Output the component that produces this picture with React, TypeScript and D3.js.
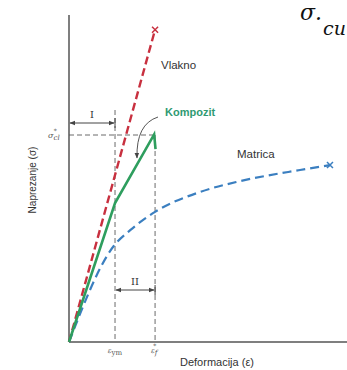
import { useEffect, useRef } from "react";
import * as d3 from "d3";

// strain / stress in arbitrary units
const fiberPts: [number, number][] = [[0, 0], [1.87, 95.5]];
const compositePts: [number, number][] = [[0, 0], [1.0, 42.5], [1.85, 63.5], [1.88, 59]];
const matrixPts: [number, number][] = [
  [0, 0], [0.98, 29.5], [1.33, 34.2], [1.87, 39.8], [2.85, 45.9], [3.72, 49.2], [5.02, 52.6], [5.67, 54.1],
];
const epsYm = 1.0;
const epsF = 1.87;
const sigmaCl = 63.3;

const RED = "#c8303f";
const BLUE = "#3b7fc0";
const GREEN = "#2e9e5e";
const GRAY = "#6a6a6a";

export default function App() {
  const svgRef = useRef<SVGSVGElement>(null);

  useEffect(() => {
    if (!svgRef.current) return;
    const svg = d3.select(svgRef.current);
    svg.selectAll("*").remove();

    const x = d3.scaleLinear().domain([0, 6.04]).range([69, 347]);
    const y = d3.scaleLinear().domain([0, 100]).range([342, 15]);
    const line = d3.line<[number, number]>().x((d) => x(d[0])).y((d) => y(d[1]));

    const defs = svg.append("defs");
    defs.append("marker")
      .attr("id", "ah")
      .attr("viewBox", "0 0 10 10")
      .attr("refX", 9).attr("refY", 5)
      .attr("markerWidth", 6).attr("markerHeight", 6)
      .attr("orient", "auto-start-reverse")
      .append("path").attr("d", "M0,1 L10,5 L0,9 z").attr("fill", "#444");

    // reference dashed lines
    svg.append("line")
      .attr("x1", x(epsYm)).attr("x2", x(epsYm)).attr("y1", 110).attr("y2", y(0))
      .attr("stroke", GRAY).attr("stroke-width", 1).attr("stroke-dasharray", "5,3");
    svg.append("line")
      .attr("x1", x(epsF)).attr("x2", x(epsF)).attr("y1", y(sigmaCl)).attr("y2", y(0))
      .attr("stroke", GRAY).attr("stroke-width", 1).attr("stroke-dasharray", "5,3");
    svg.append("line")
      .attr("x1", x(0)).attr("x2", x(epsF)).attr("y1", y(sigmaCl)).attr("y2", y(sigmaCl))
      .attr("stroke", GRAY).attr("stroke-width", 1).attr("stroke-dasharray", "5,3");

    // axes
    svg.append("line").attr("x1", x(0)).attr("x2", x(0)).attr("y1", 15).attr("y2", y(0))
      .attr("stroke", "#555").attr("stroke-width", 1.5);
    svg.append("line").attr("x1", x(0)).attr("x2", 347).attr("y1", y(0)).attr("y2", y(0))
      .attr("stroke", "#555").attr("stroke-width", 1.5);

    // curves
    svg.append("path")
      .attr("d", line.curve(d3.curveMonotoneX)(matrixPts))
      .attr("fill", "none").attr("stroke", BLUE).attr("stroke-width", 2.2).attr("stroke-dasharray", "9,5");
    svg.append("path")
      .attr("d", line.curve(d3.curveLinear)(fiberPts))
      .attr("fill", "none").attr("stroke", RED).attr("stroke-width", 2.4).attr("stroke-dasharray", "8,4");
    svg.append("path")
      .attr("d", line.curve(d3.curveLinear)(compositePts))
      .attr("fill", "none").attr("stroke", GREEN).attr("stroke-width", 2.6).attr("stroke-linejoin", "miter");

    // failure markers
    const cross = (cx: number, cy: number, c: string) => {
      svg.append("path")
        .attr("d", `M${cx - 3},${cy - 3}L${cx + 3},${cy + 3}M${cx - 3},${cy + 3}L${cx + 3},${cy - 3}`)
        .attr("stroke", c).attr("stroke-width", 1.5);
    };
    const fEnd = fiberPts[fiberPts.length - 1];
    const mEnd = matrixPts[matrixPts.length - 1];
    cross(x(fEnd[0]), y(fEnd[1]), RED);
    cross(x(mEnd[0]), y(mEnd[1]), BLUE);

    // dimension arrows I and II
    const dim = (x1: number, x2: number, yy: number, label: string) => {
      svg.append("line").attr("x1", x1 + 1).attr("x2", x2 - 1).attr("y1", yy).attr("y2", yy)
        .attr("stroke", "#444").attr("stroke-width", 1)
        .attr("marker-start", "url(#ah)").attr("marker-end", "url(#ah)");
      svg.append("line").attr("x1", x2).attr("x2", x2).attr("y1", yy - 5).attr("y2", yy + 5)
        .attr("stroke", "#444").attr("stroke-width", 1);
      svg.append("text").attr("x", (x1 + x2) / 2).attr("y", yy - 5)
        .attr("text-anchor", "middle").attr("font-family", "DejaVu Serif").attr("font-size", 10)
        .attr("fill", "#333").text(label);
    };
    dim(x(0), x(epsYm), 123, "I");
    dim(x(epsYm), x(epsF), 290, "II");

    // curved pointer from Kompozit label
    svg.append("path").attr("d", "M158,117 Q136,124 137,158")
      .attr("fill", "none").attr("stroke", "#555").attr("stroke-width", 1)
      .attr("marker-end", "url(#ah)");

    // labels
    const sans = "Liberation Sans, Arial, sans-serif";
    svg.append("text").attr("x", 161).attr("y", 69).attr("font-family", sans).attr("font-size", 11.5)
      .attr("fill", "#333").text("Vlakno");
    svg.append("text").attr("x", 165).attr("y", 116).attr("font-family", sans).attr("font-size", 11)
      .attr("font-weight", "bold").attr("fill", "#2f9a72").text("Kompozit");
    svg.append("text").attr("x", 237).attr("y", 158).attr("font-family", sans).attr("font-size", 11.5)
      .attr("fill", "#333").text("Matrica");

    // sigma_cl*
    const sc = svg.append("text").attr("x", 48).attr("y", 138).attr("font-family", "DejaVu Serif")
      .attr("font-style", "italic").attr("font-size", 8).attr("fill", "#555");
    sc.append("tspan").text("σ");
    sc.append("tspan").attr("font-size", 7).attr("dy", 1.5).text("cl");
    sc.append("tspan").attr("font-size", 6).attr("dx", -6).attr("dy", -7).text("*");

    // tick labels under x axis
    const t1 = svg.append("text").attr("x", x(epsYm)).attr("y", 353).attr("text-anchor", "middle")
      .attr("font-family", "DejaVu Serif").attr("font-size", 7).attr("fill", "#555");
    t1.append("tspan").attr("font-style", "italic").text("ε");
    t1.append("tspan").attr("dy", 1.5).text("ym");
    const t2 = svg.append("text").attr("x", x(epsF) - 1).attr("y", 353).attr("text-anchor", "middle")
      .attr("font-family", "DejaVu Serif").attr("font-style", "italic").attr("font-size", 7).attr("fill", "#555");
    t2.append("tspan").text("ε");
    t2.append("tspan").attr("dy", 1.5).text("f");
    t2.append("tspan").attr("dx", -4).attr("dy", -7).attr("font-size", 6).text("*");

    svg.append("text").attr("x", 180).attr("y", 366).attr("font-family", sans).attr("font-size", 11)
      .attr("fill", "#333").text("Deformacija (ε)");
    svg.append("text").attr("transform", "translate(36,180) rotate(-90)").attr("text-anchor", "middle")
      .attr("font-family", sans).attr("font-size", 10).attr("fill", "#333").text("Naprezanje (σ)");

    // handwritten fragment top right
    svg.append("text").attr("x", 300).attr("y", 20).attr("font-family", "DejaVu Serif")
      .attr("font-style", "italic").attr("font-size", 22).attr("fill", "#111").text("σ.");
    svg.append("text").attr("x", 323).attr("y", 35).attr("font-family", "DejaVu Serif")
      .attr("font-style", "italic").attr("font-size", 19).attr("fill", "#111").text("cu");
  }, []);

  return (
    <svg ref={svgRef} width={347} height={370}
      style={{ position: "absolute", left: 0, top: 0, background: "#fff" }} />
  );
}
